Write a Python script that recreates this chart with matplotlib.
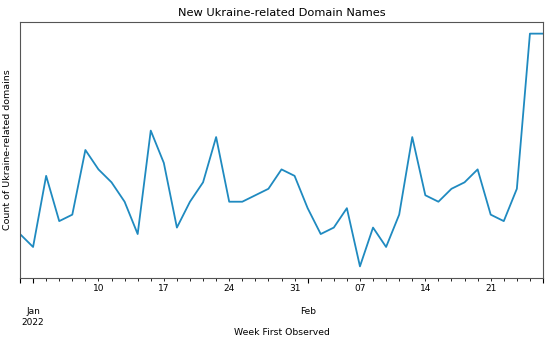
import matplotlib
matplotlib.use("Agg")
import matplotlib.pyplot as plt
import pandas as pd

start_date = "2021-12-31"
end_date = "2022-02-25"
counts = [9, 7, 18, 11, 12, 22, 19, 17, 14, 9, 25, 20, 10, 14, 17, 24, 14, 14, 15, 16,
          19, 18, 13, 9, 10, 13, 4, 10, 7, 12, 24, 15, 14, 16, 17, 19, 12, 11, 16, 40, 40]

idx = pd.date_range(start_date, end_date, freq="B")
s = pd.Series(counts, index=idx)

fig = plt.figure(figsize=(5.5, 3.46), dpi=100)
ax = fig.add_axes([20/550, 1 - 278/346, 523/550, 256/346])
s.plot(ax=ax, color="#1f8ac0", linewidth=1.3)
ax.set_yticks([])
ax.set_title("New Ukraine-related Domain Names", fontsize=8.2, pad=4)
ax.set_ylabel("Count of Ukraine-related domains", fontsize=6.8, labelpad=6)
ax.set_xlabel("Week First Observed", fontsize=6.7, labelpad=1)
ax.tick_params(axis="x", which="both", labelsize=6.5, pad=2.5)
for sp in ax.spines.values():
    sp.set_color("#555555")
fig.savefig("out.png", dpi=100)
